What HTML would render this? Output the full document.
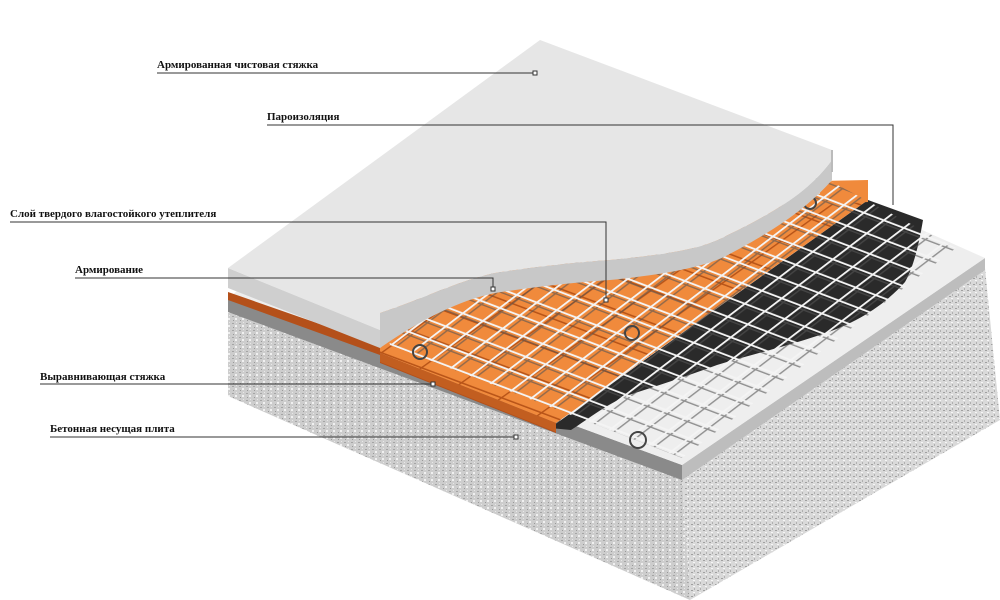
<!DOCTYPE html>
<html><head><meta charset="utf-8"><style>
html,body{margin:0;padding:0;background:#fff;width:1000px;height:600px;overflow:hidden}
svg{display:block}
text{font-family:"Liberation Serif",serif;font-weight:bold;font-size:11px;fill:#111}
</style></head><body>
<svg width="1000" height="600" viewBox="0 0 1000 600" xmlns="http://www.w3.org/2000/svg">
<defs>
<pattern id="tex" width="7" height="7" patternUnits="userSpaceOnUse">
<rect width="7" height="7" fill="#cdcdcd"/>
<rect x="1" y="1" width="2" height="1" fill="#a5a5a5"/>
<rect x="4" y="3" width="2" height="2" fill="#f0f0f0"/>
<rect x="2" y="5" width="1" height="1" fill="#999"/>
<rect x="5" y="0" width="1" height="1" fill="#e8e8e8"/>
</pattern>
<pattern id="tex2" width="6" height="6" patternUnits="userSpaceOnUse">
<rect width="6" height="6" fill="#d9d9d9"/>
<rect x="1" y="2" width="2" height="1" fill="#a0a0a0"/>
<rect x="3" y="4" width="2" height="1" fill="#f6f6f6"/>
<rect x="4" y="0" width="1" height="2" fill="#b0b0b0"/>
</pattern>
<pattern id="mesh" width="1" height="1" patternUnits="userSpaceOnUse" patternTransform="matrix(20 7.6 17 -13 390 345)">
<rect x="0" y="0" width="1" height="0.1" fill="#f4f4f4"/>
<rect x="0" y="0" width="0.1" height="1" fill="#f4f4f4"/>
</pattern>
<pattern id="meshs" width="1" height="1" patternUnits="userSpaceOnUse" patternTransform="matrix(20 7.6 17 -13 392 349)">
<rect x="0" y="0" width="1" height="0.08" fill="#555"/>
<rect x="0" y="0" width="0.08" height="1" fill="#555"/>
</pattern>
<pattern id="brick" width="1" height="1" patternUnits="userSpaceOnUse" patternTransform="matrix(40 15 30 -21.5 380 353)">
<rect width="1" height="1" fill="#f08a3c"/>
<rect x="0" y="0" width="1" height="0.05" fill="#b85418"/>
<rect x="0" y="0" width="0.04" height="1" fill="#b85418"/>
</pattern>
<clipPath id="mclip"><path d="M390,345 L682,458 L956,248 L800,165 L380,300 Z"/></clipPath>
</defs>

<!-- base slab -->
<path d="M228,310 L682,478 L690,600 L228,396 Z" fill="url(#tex)"/>
<path d="M682,478 L985,268 L1000,420 L690,600 Z" fill="url(#tex2)"/>
<!-- leveling screed layer -->
<path d="M228,298 L682,465 L682,480 L228,312 Z" fill="#8a8a8a"/>
<path d="M682,465 L985,258 L985,270 L682,480 Z" fill="#bdbdbd"/>
<path d="M228,298 L540,60 L985,258 L682,465 Z" fill="#eeeeee"/>
<!-- vapor barrier -->
<path d="M550,428 L868,200 L923,220 C918,250 912,270 905,282 C880,310 850,325 820,335 C780,348 750,355 717,365 C690,375 660,385 629,395 C605,405 590,418 571,430 Z" fill="#2a2a2a"/>
<!-- insulation -->
<path d="M228,292 L380,345 L380,353 L556,423 L556,433 L380,363 L380,355 L228,300 Z" fill="#b4501a"/>
<path d="M380,353 L556,423 L868,200 L868,182 L380,300 Z" fill="url(#brick)"/>
<path d="M820,181 L868,180 L868,202 L820,205 Z" fill="#f08a3c"/>
<path d="M380,353 L556,423 L556,432 L380,362 Z" fill="#c25e20"/>
<!-- mesh -->
<g clip-path="url(#mclip)">
<rect x="300" y="100" width="700" height="400" fill="url(#meshs)" opacity="0.6"/>
<rect x="300" y="100" width="700" height="400" fill="url(#mesh)"/>
</g>
<!-- chairs -->
<g fill="none" stroke="#444" stroke-width="2">
<circle cx="420" cy="352" r="7"/><circle cx="632" cy="333" r="7"/><circle cx="810" cy="203" r="6"/><circle cx="638" cy="440" r="8"/>
</g>
<!-- top screed -->
<path d="M228,268 L380,330 L380,348 L228,288 Z" fill="#cfcfcf"/>
<path d="M380,313 C420,300 460,280 495,273 C540,266 580,262 610,260 C660,255 700,250 724,237 C780,210 810,190 832,160 L832,180 C810,205 780,228 724,257 C700,268 660,275 610,280 C580,282 540,286 495,293 C460,300 420,320 380,348 Z" fill="#c8c8c8"/>
<path d="M228,268 L540,40 L832,150 L832,160 C810,190 780,210 724,237 C700,250 660,255 610,260 C580,262 540,266 495,273 C460,280 420,300 380,313 L380,330 Z" fill="#e6e6e6"/>
<path d="M832,150 L832,172" stroke="#bbb" stroke-width="2"/>

<!-- labels -->
<g stroke="#333" stroke-width="1" fill="none">
<path d="M157,73 H535"/><rect x="533" y="71" width="4" height="4" fill="#fff"/>
<path d="M267,125 H893 V205"/>
<path d="M10,222 H606 V300"/><rect x="604" y="298" width="4" height="4" fill="#fff"/>
<path d="M75,278 H493 V287"/><rect x="491" y="287" width="4" height="4" fill="#fff"/>
<path d="M40,384 H433"/><rect x="431" y="382" width="4" height="4" fill="#fff"/>
<path d="M50,437 H516"/><rect x="514" y="435" width="4" height="4" fill="#fff"/>
</g>
<text x="157" y="68">Армированная чистовая стяжка</text>
<text x="267" y="120">Пароизоляция</text>
<text x="10" y="217">Слой твердого влагостойкого утеплителя</text>
<text x="75" y="273">Армирование</text>
<text x="40" y="380">Выравнивающая стяжка</text>
<text x="50" y="432">Бетонная несущая плита</text>
</svg>
</body></html>
